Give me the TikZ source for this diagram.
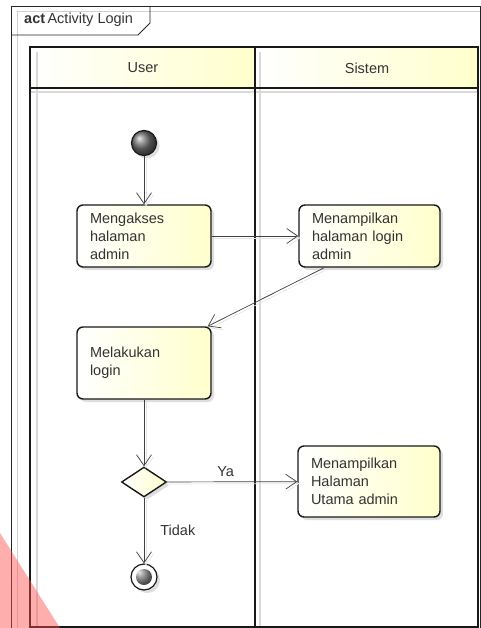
\documentclass[tikz,border=0pt]{standalone}
\usepackage{fontspec}
\setmainfont{Liberation Sans}
\usetikzlibrary{positioning,shapes.geometric,arrows.meta,shadows,calc}

\definecolor{umlyellow}{RGB}{255,255,204}
\newcommand{\umlfont}{\fontsize{14.5}{18}\selectfont}

\tikzset{
  lane/.style={draw=black!90, line width=1.6pt},
  ghost/.style={draw=black!15, line width=1.2pt},
  shade box/.style={drop shadow={shadow xshift=3pt,shadow yshift=-3pt,fill=black!13,opacity=1}},
  action/.style={draw=black!90, line width=1.4pt, rounded corners=6pt,
    left color=white, right color=umlyellow, shade box,
    align=left, inner xsep=13pt, inner ysep=0pt, font=\umlfont, text=black!80},
  decision/.style={diamond, draw=black!90, line width=1.4pt, aspect=1.5,
    minimum width=45pt, minimum height=30pt, inner sep=0pt,
    left color=white, right color=umlyellow, shade box},
  start/.style={circle, draw=black!90, line width=1.2pt, minimum size=25pt,
    inner sep=0pt, ball color=black!55, shade box},
  finish/.style={circle, draw=black!90, line width=1.2pt, minimum size=26pt,
    inner sep=0pt, fill=white, shade box,
    path picture={\shade[ball color=black!55] (path picture bounding box.center) circle (8pt);}},
  flow/.style={draw=black!75, line width=0.7pt, -{Straight Barb[length=11pt,width=15pt]},
    preaction={draw=black!10, line width=0.7pt, transform canvas={shift={(2pt,-2pt)}}}},
  tag/.style={font=\umlfont, text=black!80, inner sep=2pt}
}

\begin{document}
\begin{tikzpicture}[x=1pt,y=-1pt]
    \useasboundingbox (0,0) rectangle (481,628);

    % Draw frame
    \draw[black!18, line width=1pt] (17,628) -- (17,12) -- (480,12);
    \draw[black!85, line width=0.8pt] (11,628) -- (11,6) -- (480,6) -- (480,628);
    \draw[black!85, line width=0.8pt] (11,35) -- (138,35) -- (150,23) -- (150,6);
    \node[tag, anchor=west] (title) at (22,20) {\textbf{act}\,Activity Login};

    % Draw swimlanes
    \shade[left color=white, right color=umlyellow] (30,47) rectangle (255,88);
    \shade[left color=white, right color=umlyellow] (255,47) rectangle (478,88);
    \draw[ghost] (37,52) -- (37,627);
    \draw[ghost] (260,52) -- (260,627);
    \draw[ghost] (31,92) -- (477,92);
    \draw[lane] (30,47) rectangle (478,627);
    \draw[lane] (255,47) -- (255,627);
    \draw[lane] (30,88) -- (478,88);
    \node[tag] (user) at (143,68) {User};
    \node[tag] (sistem) at (367,68) {Sistem};

    % Draw activities
    \node[start] (init) at (144,143) {};
    \node[action, text width=108pt, minimum height=62pt] (akses) at (144,236) {Mengakses\\halaman\\admin};
    \node[action, text width=115pt, minimum height=62pt] (tampil) at (369.5,236) {Menampilkan\\halaman login\\admin};
    \node[action, text width=108pt, minimum height=72pt] (login) at (144,363) {Melakukan\\login};
    \node[decision] (cek) at (144,482) {};
    \node[action, text width=116pt, minimum height=71pt] (utama) at (369,481.5) {Menampilkan\\Halaman\\Utama admin};
    \node[finish] (akhir) at (144,577) {};

    % Draw flows
    \draw[flow] (init) -- (akses);
    \draw[flow] (akses) -- (tampil);
    \draw[flow] ($(tampil.south west)+(26,0)$) -- ($(login.north east)+(-4,0)$);
    \draw[flow] (login) -- (cek);
    \draw[flow] (cek) -- node[tag, pos=0.45, above=3pt] {Ya} (utama);
    \draw[flow] (cek) -- node[tag, right=14pt] {Tidak} (akhir);

    % Draw watermark
    \fill[red!70, opacity=0.45] (0,533) -- (60,628) -- (0,628) -- cycle;
\end{tikzpicture}
\end{document}
